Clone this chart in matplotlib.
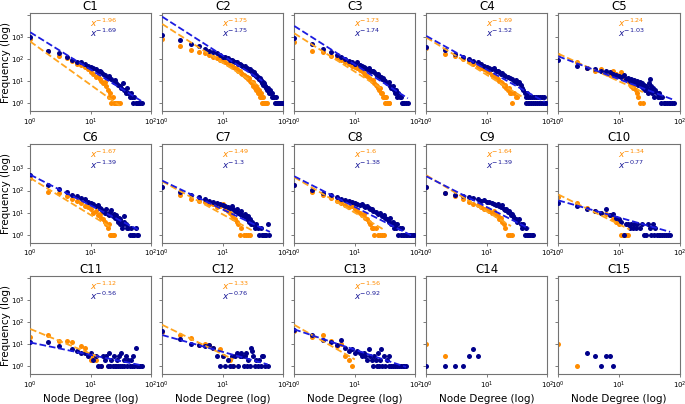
import numpy as np
import matplotlib
matplotlib.use('Agg')
import matplotlib.pyplot as plt

titles = ['C%d' % i for i in range(1, 16)]

# exponents shown in each panel (None = no fit)
alpha_orange = [1.96, 1.75, 1.73, 1.69, 1.24, 1.67, 1.49, 1.6, 1.64, 1.34, 1.12, 1.33, 1.56, None, None]
alpha_blue = [1.69, 1.75, 1.74, 1.52, 1.03, 1.39, 1.3, 1.38, 1.39, 0.77, 0.56, 0.76, 0.92, None, None]

# fitted line: value at degree 1 and last degree
fit_c_orange = [620, 3800, 1450, 940, 173, 370, 260, 400, 490, 66, 49, 75, 75, None, None]
fit_end_orange = [30, 40, 28, 40, 25, 22, 30, 30, 25, 15, 14, 15, 10, None, None]
fit_c_blue = [1620, 8100, 3100, 1100, 132, 520, 280, 440, 440, 36, 12, 26, 47, None, None]
fit_end_blue = [68, 45, 75, 90, 80, 60, 60, 85, 50, 70, 65, 55, 70, None, None]

# degree -> frequency, orange series
orange_counts = [
    {1: 800, 2: 220, 3: 135, 4: 110, 5: 80, 6: 60, 7: 55, 8: 42, 9: 35, 10: 25, 11: 22, 12: 16, 13: 18,
     14: 12, 15: 10, 16: 8, 17: 9, 18: 6, 19: 4, 20: 2, 21: 3, 22: 1, 23: 2, 24: 1, 25: 1, 26: 1, 27: 1,
     28: 1, 30: 1},
    {1: 790, 2: 370, 3: 250, 4: 200, 5: 185, 6: 150, 7: 130, 8: 110, 9: 95, 10: 80, 11: 70, 12: 62, 13: 55,
     14: 48, 15: 45, 16: 40, 17: 35, 18: 30, 19: 28, 20: 24, 21: 22, 22: 20, 23: 18, 24: 16, 25: 15, 26: 12,
     27: 14, 28: 10, 29: 9, 30: 8, 31: 9, 32: 6, 33: 7, 34: 5, 35: 6, 36: 4, 37: 5, 38: 3, 39: 4, 40: 3,
     41: 2, 42: 3, 43: 2, 44: 2, 45: 1, 46: 2, 47: 1, 48: 1, 50: 1, 52: 1, 54: 1},
    {1: 560, 2: 240, 3: 200, 4: 140, 5: 110, 6: 90, 7: 75, 8: 60, 9: 50, 10: 45, 11: 38, 12: 32, 13: 28,
     14: 24, 15: 20, 16: 18, 17: 14, 18: 12, 19: 10, 20: 11, 21: 8, 22: 7, 23: 6, 24: 5, 25: 4, 26: 5,
     27: 3, 28: 3, 29: 2, 30: 2, 31: 2, 32: 1, 33: 2, 34: 1, 35: 1, 36: 1, 37: 1},
    {1: 300, 2: 170, 3: 140, 4: 100, 5: 80, 6: 60, 7: 50, 8: 40, 9: 35, 10: 30, 11: 25, 12: 20, 13: 18,
     14: 14, 15: 12, 16: 10, 17: 9, 18: 8, 19: 6, 20: 7, 21: 5, 22: 4, 23: 5, 24: 3, 25: 3, 26: 1,
     28: 3, 30: 2, 31: 2},
    {1: 150, 2: 70, 3: 40, 4: 30, 5: 35, 6: 25, 7: 20, 8: 28, 9: 22, 10: 18, 11: 25, 12: 15, 13: 12,
     14: 10, 15: 8, 16: 6, 17: 5, 18: 7, 19: 4, 20: 3, 21: 2, 22: 1, 25: 1},
    {1: 370, 2: 90, 3: 80, 4: 55, 5: 40, 6: 35, 7: 28, 8: 20, 9: 18, 10: 15, 11: 10, 12: 12, 13: 8,
     14: 9, 15: 6, 16: 5, 17: 4, 18: 3, 19: 2, 20: 3, 21: 1, 22: 1, 23: 1, 24: 1},
    {1: 140, 2: 62, 3: 40, 4: 35, 5: 30, 6: 25, 7: 24, 8: 18, 9: 20, 10: 24, 11: 15, 12: 12, 13: 10,
     14: 8, 15: 6, 16: 5, 17: 4, 18: 3, 19: 1, 20: 2, 22: 1, 24: 1, 26: 1, 28: 1},
    {1: 180, 2: 90, 3: 60, 4: 45, 5: 35, 6: 28, 7: 22, 8: 18, 9: 20, 10: 14, 11: 12, 12: 10, 13: 8,
     14: 9, 15: 6, 16: 5, 17: 4, 18: 3, 19: 2, 20: 2, 21: 1, 22: 2, 24: 1, 26: 1, 28: 1, 30: 1},
    {1: 140, 2: 80, 3: 55, 4: 40, 5: 32, 6: 25, 7: 22, 8: 18, 9: 15, 10: 14, 11: 12, 12: 10, 13: 12,
     14: 8, 15: 7, 16: 5, 17: 6, 18: 4, 19: 3, 20: 2, 22: 1, 24: 1, 26: 1},
    {1: 50, 2: 28, 3: 16, 4: 12, 5: 10, 6: 9, 7: 8, 8: 5, 9: 4, 10: 3, 11: 1, 12: 1, 13: 1, 14: 1},
    {1: 22, 2: 26, 3: 14, 4: 14, 5: 13, 7: 8, 8: 7, 10: 2, 11: 3, 12: 2, 14: 1, 15: 1},
    {1: 35, 2: 27, 3: 20, 4: 9, 5: 10, 6: 9, 7: 7, 9: 6, 10: 3, 13: 2, 14: 1, 15: 1},
    {1: 40, 2: 22, 3: 27, 4: 14, 5: 8, 6: 10, 7: 3, 8: 2, 9: 1},
    {1: 10, 2: 3},
    {1: 10, 2: 1},
]

# degree -> frequency, blue series
blue_counts = [
    {1: 950, 2: 240, 3: 180, 4: 130, 5: 95, 6: 70, 7: 75, 8: 60, 9: 50, 10: 45, 11: 40, 12: 35, 13: 28,
     14: 30, 15: 25, 16: 22, 17: 20, 18: 16, 19: 14, 20: 17, 22: 13, 24: 9, 25: 11, 26: 8, 28: 7, 30: 6,
     32: 5, 34: 8, 36: 4, 38: 3, 40: 5, 42: 3, 44: 2, 46: 3, 48: 2, 50: 1, 52: 2, 55: 1, 58: 1, 60: 1,
     63: 1, 66: 1, 70: 1},
    {1: 1230, 2: 690, 3: 470, 4: 370, 5: 290, 6: 240, 7: 210, 8: 180, 9: 150, 10: 130, 11: 125, 12: 110,
     13: 95, 14: 90, 15: 80, 16: 70, 17: 72, 18: 60, 19: 58, 20: 55, 21: 50, 22: 45, 23: 48, 24: 40,
     25: 38, 26: 35, 27: 33, 28: 36, 29: 28, 30: 30, 31: 25, 32: 22, 33: 26, 34: 20, 35: 18, 36: 20,
     37: 15, 38: 16, 39: 13, 40: 12, 41: 14, 42: 10, 43: 11, 44: 9, 45: 8, 46: 9, 47: 7, 48: 8, 49: 6,
     50: 6, 52: 5, 54: 4, 56: 5, 58: 3, 60: 4, 62: 3, 64: 2, 66: 3, 68: 2, 70: 2, 72: 1, 75: 2, 78: 1,
     80: 1, 82: 1, 85: 1, 88: 1, 90: 1, 93: 1, 96: 1, 100: 1},
    {1: 870, 2: 470, 3: 270, 4: 200, 5: 150, 6: 120, 7: 100, 8: 80, 9: 70, 10: 60, 11: 75, 12: 55,
     13: 50, 14: 45, 15: 40, 16: 35, 17: 38, 18: 30, 19: 28, 20: 30, 21: 25, 22: 22, 23: 20, 24: 22,
     25: 18, 26: 15, 27: 16, 28: 12, 29: 14, 30: 11, 32: 10, 34: 8, 36: 9, 38: 6, 40: 5, 42: 6, 44: 4,
     46: 3, 48: 4, 50: 2, 52: 3, 55: 2, 58: 2, 60: 1, 63: 1, 66: 1, 70: 1, 75: 1},
    {1: 360, 2: 250, 3: 170, 4: 130, 5: 100, 6: 85, 7: 70, 8: 60, 9: 50, 10: 45, 11: 40, 12: 35, 13: 38,
     14: 30, 15: 28, 16: 25, 17: 22, 18: 24, 19: 20, 20: 18, 22: 16, 24: 14, 26: 12, 28: 10, 30: 11,
     32: 8, 34: 9, 36: 7, 38: 5, 40: 4, 42: 3, 44: 1, 45: 2, 46: 3, 47: 1, 48: 2, 50: 1, 52: 2, 54: 1,
     56: 2, 58: 1, 60: 2, 62: 1, 65: 2, 68: 1, 70: 2, 73: 1, 76: 2, 79: 1, 82: 2, 85: 1, 88: 2, 91: 1,
     95: 1},
    {1: 87, 2: 47, 3: 40, 4: 35, 5: 30, 6: 28, 7: 25, 8: 22, 9: 20, 10: 18, 11: 15, 12: 20, 13: 12,
     14: 14, 15: 10, 16: 12, 17: 9, 18: 11, 19: 8, 20: 10, 21: 7, 22: 9, 23: 6, 24: 8, 25: 5, 26: 7,
     27: 4, 28: 6, 29: 5, 30: 3, 31: 8, 32: 12, 33: 4, 34: 6, 35: 3, 36: 5, 38: 2, 40: 4, 42: 3, 44: 2,
     46: 3, 48: 2, 50: 1, 52: 2, 55: 1, 58: 1, 62: 1, 66: 1, 70: 1, 75: 1, 80: 1},
    {1: 480, 2: 170, 3: 120, 4: 85, 5: 65, 6: 55, 7: 45, 8: 40, 9: 32, 10: 28, 11: 24, 12: 20, 13: 22,
     14: 16, 15: 14, 16: 12, 17: 10, 18: 14, 19: 9, 20: 8, 21: 11, 22: 13, 23: 7, 24: 9, 25: 6, 26: 8,
     27: 5, 28: 4, 29: 6, 30: 3, 31: 5, 32: 4, 33: 2, 34: 3, 35: 4, 36: 7, 38: 3, 40: 2, 42: 2, 44: 1,
     46: 2, 48: 1, 50: 1, 52: 1, 55: 2, 58: 1, 60: 1},
    {1: 140, 2: 87, 3: 60, 4: 50, 5: 40, 6: 35, 7: 30, 8: 28, 9: 25, 10: 22, 11: 20, 12: 18, 13: 16,
     14: 20, 15: 14, 16: 12, 17: 15, 18: 10, 19: 9, 20: 12, 21: 8, 22: 7, 23: 9, 24: 6, 25: 5, 26: 7,
     27: 4, 28: 5, 29: 3, 30: 4, 32: 3, 34: 2, 36: 3, 38: 2, 40: 1, 42: 2, 44: 1, 46: 1, 48: 1, 50: 1,
     52: 1, 55: 3, 58: 1},
    {1: 186, 2: 110, 3: 80, 4: 60, 5: 50, 6: 42, 7: 38, 8: 33, 9: 30, 10: 28, 11: 25, 12: 22, 13: 24,
     14: 20, 15: 18, 16: 21, 17: 16, 18: 14, 19: 15, 20: 12, 22: 11, 24: 9, 26: 10, 28: 7, 30: 8, 32: 6,
     34: 5, 36: 4, 38: 6, 40: 3, 42: 4, 44: 2, 46: 3, 48: 2, 50: 3, 52: 1, 55: 2, 58: 1, 60: 2, 63: 1,
     66: 1, 70: 1, 74: 1, 78: 1, 82: 1, 86: 1, 90: 1, 95: 1},
    {1: 140, 2: 80, 3: 65, 4: 55, 5: 50, 6: 48, 7: 40, 8: 35, 9: 38, 10: 30, 11: 32, 12: 28, 13: 25,
     14: 22, 15: 26, 16: 20, 17: 18, 18: 22, 19: 15, 20: 13, 21: 14, 22: 11, 23: 12, 24: 10, 25: 8,
     26: 9, 27: 7, 28: 6, 30: 5, 32: 4, 34: 5, 36: 3, 38: 2, 40: 3, 42: 1, 44: 2, 46: 1, 48: 1, 50: 1,
     52: 1, 55: 1, 58: 1},
    {1: 28, 2: 20, 3: 14, 4: 12, 5: 10, 6: 14, 7: 8, 8: 9, 9: 6, 10: 5, 11: 4, 12: 1, 13: 3, 14: 3,
     15: 2, 16: 3, 17: 2, 18: 3, 19: 2, 20: 3, 22: 2, 24: 3, 26: 1, 28: 1, 30: 3, 32: 2, 34: 1, 36: 3,
     38: 1, 40: 2, 42: 1, 45: 1, 48: 1, 52: 1, 56: 1, 60: 1, 65: 1, 70: 1},
    {1: 12, 2: 12, 3: 8, 5: 6, 6: 5, 7: 4, 8: 4, 9: 3, 10: 4, 11: 2, 12: 3, 13: 1, 15: 1, 16: 3, 17: 2,
     18: 3, 19: 1, 20: 4, 21: 1, 22: 2, 23: 1, 24: 3, 25: 1, 26: 1, 27: 2, 28: 1, 29: 3, 30: 1, 32: 4,
     33: 1, 35: 2, 36: 1, 38: 3, 40: 1, 42: 2, 44: 1, 46: 2, 48: 1, 50: 3, 52: 1, 56: 7, 58: 1, 62: 1,
     66: 1, 70: 1},
    {1: 40, 2: 18, 3: 10, 4: 9, 5: 8, 6: 9, 7: 7, 8: 3, 9: 1, 10: 3, 11: 1, 12: 2, 13: 1, 14: 3, 15: 1,
     16: 3, 17: 4, 18: 1, 19: 3, 20: 4, 21: 3, 22: 1, 23: 3, 24: 4, 25: 1, 26: 2, 28: 1, 29: 7, 30: 5,
     32: 3, 34: 1, 36: 2, 38: 1, 40: 2, 42: 1, 45: 3, 47: 3, 50: 1, 55: 1},
    {1: 44, 2: 25, 3: 16, 4: 12, 5: 9, 6: 16, 7: 7, 8: 5, 9: 6, 10: 4, 11: 5, 12: 4, 13: 3, 14: 4,
     15: 3, 16: 2, 17: 6, 18: 3, 19: 2, 20: 1, 21: 3, 22: 2, 23: 1, 24: 4, 25: 1, 26: 2, 27: 6, 28: 1,
     30: 3, 32: 1, 34: 2, 36: 1, 37: 3, 40: 1, 43: 1, 46: 1, 50: 1, 54: 1, 58: 1, 62: 1, 66: 1, 70: 1},
    {1: 1, 2: 1, 3: 1, 4: 1, 5: 3, 6: 6, 7: 3},
    {3: 4, 4: 3, 5: 1, 6: 3, 7: 3, 8: 1},
]

ORANGE = '#ff8c00'
BLUE = '#00008b'

fig, axes = plt.subplots(3, 5, figsize=(6.85, 4.04), dpi=100)
fig.subplots_adjust(left=0.044, right=0.992, top=0.968, bottom=0.074, wspace=0.09, hspace=0.34)

for i, ax in enumerate(axes.flat):
    ax.set_xscale('log')
    ax.set_yscale('log')
    o = orange_counts[i]
    b = blue_counts[i]
    ax.scatter(list(o.keys()), list(o.values()), s=13, color=ORANGE, linewidths=0, zorder=2)
    ax.scatter(list(b.keys()), list(b.values()), s=13, color=BLUE, linewidths=0, zorder=3)

    if alpha_orange[i] is not None:
        xo = np.array([1.0, fit_end_orange[i]])
        ax.plot(xo, fit_c_orange[i] * xo ** -alpha_orange[i], ls='--', color='#ffa520', lw=1.3, zorder=4)
        xb = np.array([1.0, fit_end_blue[i]])
        ax.plot(xb, fit_c_blue[i] * xb ** -alpha_blue[i], ls='--', color='#1c1ce0', lw=1.3, zorder=4)
        ax.text(0.49, 0.86, r'$x^{-%s}$' % alpha_orange[i], transform=ax.transAxes,
                color=ORANGE, fontsize=6.5)
        ax.text(0.49, 0.75, r'$x^{-%s}$' % alpha_blue[i], transform=ax.transAxes,
                color='#1a1a99', fontsize=6.5)

    ax.set_xlim(1, 100)
    ax.set_ylim(0.45, 1.2e4)
    ax.minorticks_off()
    ax.set_xticks([1, 10, 100])
    ax.set_xticklabels(['$10^0$', '$10^1$', '$10^2$'])
    ax.set_yticks([1, 10, 100, 1000, 10000])
    if i % 5 == 0:
        ax.set_yticklabels(['$10^0$', '$10^1$', '$10^2$', '$10^3$', ''])
        ax.set_ylabel('Frequency (log)', fontsize=7.5, labelpad=0)
    else:
        ax.set_yticklabels([])
    if i >= 10:
        ax.set_xlabel('Node Degree (log)', fontsize=7.5, labelpad=2)
    ax.tick_params(labelsize=5, length=2.5, width=0.6, color='0.4', pad=1.5)
    for sp in ax.spines.values():
        sp.set_color('0.45')
        sp.set_linewidth(0.8)
    ax.set_title(titles[i], fontsize=8.5, pad=2)

fig.savefig('out.png', dpi=100)
